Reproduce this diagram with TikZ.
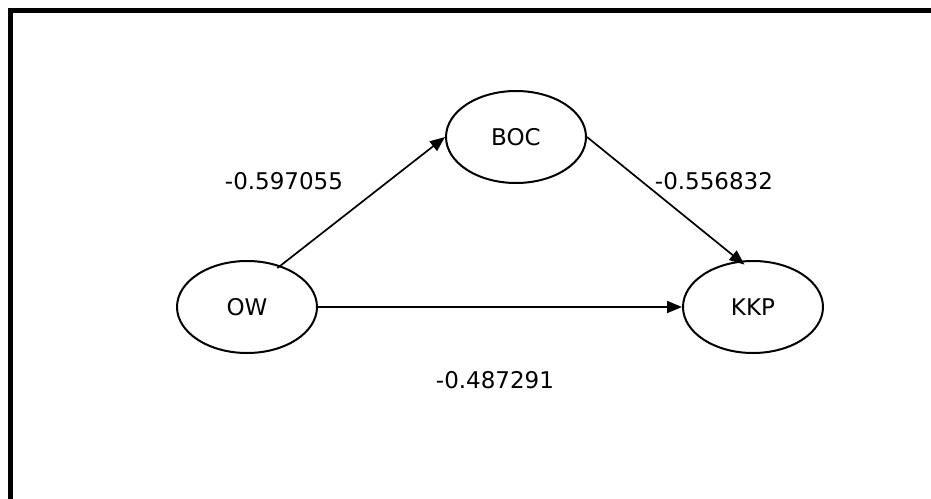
\documentclass[tikz,border=0pt]{standalone}
\usepackage{fontspec}
\setmainfont{DejaVu Sans}
\usetikzlibrary{shapes.geometric, arrows.meta}

\begin{document}
\begin{tikzpicture}[
  x=0.5pt, y=-0.5pt,
  every node/.style={font=\fontsize{11.5}{14}\selectfont},
  var/.style={draw, ellipse, line width=1pt, minimum width=70pt, minimum height=46pt, inner sep=0pt},
  effect/.style={-{Triangle[length=7.5pt,width=6pt]}, line width=0.85pt},
  coef/.style={inner sep=0pt}
]
\useasboundingbox (0,0) rectangle (931,498);
\clip (0,0) rectangle (931,498);
% open frame, top and left sides only
\draw[line width=2.75pt] (940,10.5) -- (10.5,10.5) -- (10.5,510);

\node[var] (ow) at (247,307) {OW};
\node[var] (boc) at (516,137) {BOC};
\node[var] (kkp) at (753,307) {KKP};

\draw[effect, shorten <=-2pt] (ow.51) -- (boc.west);
\draw[effect, shorten >=-3pt] (boc.east) -- (kkp.106);
\draw[effect] (ow.east) -- (kkp.west);

\node[coef] (c1) at (284,181) {-0.597055};
\node[coef] (c2) at (714,181) {-0.556832};
\node[coef] (c3) at (495,380) {-0.487291};
\end{tikzpicture}
\end{document}
